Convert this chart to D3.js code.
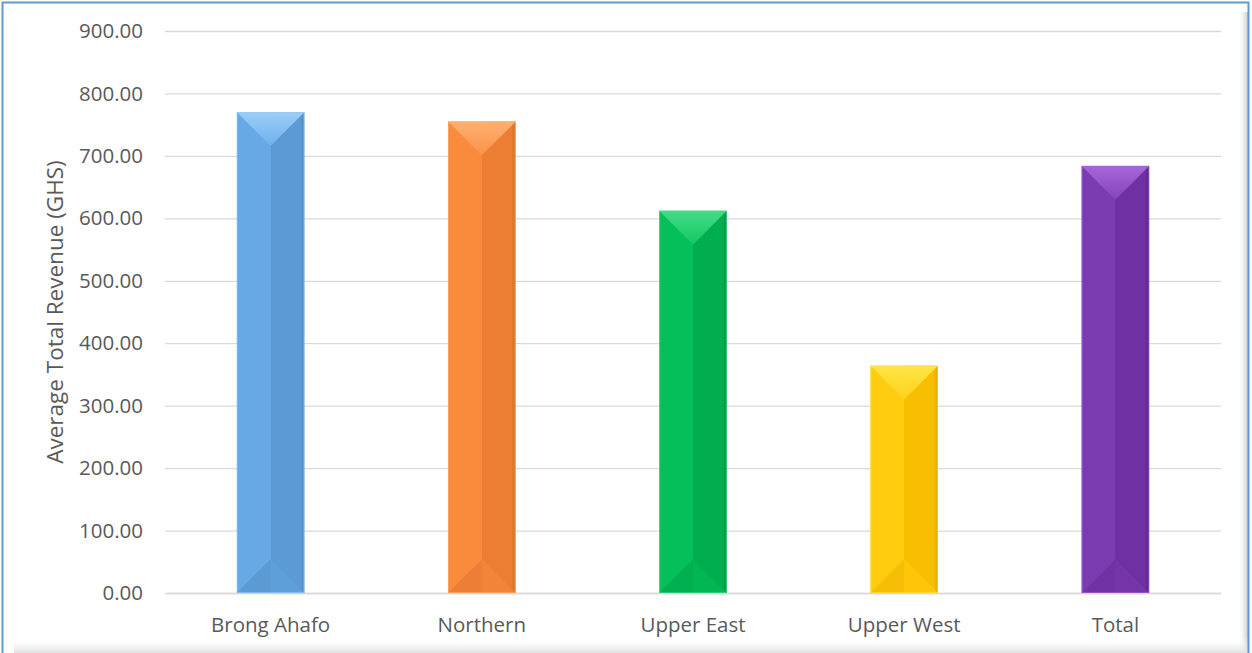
<!DOCTYPE html>
<html>
<head>
<meta charset="utf-8">
<script src="https://cdn.jsdelivr.net/npm/d3@7"></script>
<style>
  html, body { margin: 0; padding: 0; background: #fff; }
  svg { display: block; }
  text { font-family: "Open Sans", "Noto Sans", sans-serif; }
</style>
</head>
<body>
<svg id="chart" width="1252" height="653"></svg>
<script>
// ---- data ----
const categories = ["Brong Ahafo", "Northern", "Upper East", "Upper West", "Total"];
const values = [770, 755, 612, 364, 684];
const yTicks = [0, 100, 200, 300, 400, 500, 600, 700, 800, 900];
const yTitle = "Average Total Revenue (GHS)";
// colour sets per bar: [left side, right side, top light, top dark, bottom, edge]
const barColors = [
  ["#66A9E5", "#5C9AD5", "#9BCDF8", "#6FB1EC", "#5E9FDA", "#4F87BE"],
  ["#FA8B3D", "#EB7E32", "#FFB070", "#FA9248", "#F28437", "#CC6A24"],
  ["#05BF5B", "#00AE4F", "#45DB85", "#12C864", "#03B654", "#00913F"],
  ["#FFCC10", "#FABE00", "#FFE545", "#FFD21C", "#FFC508", "#D8A200"],
  ["#7C3CB1", "#6E30A2", "#A766D8", "#8444BC", "#7535A9", "#58237F"]
];

const W = 1252, H = 653;
const svg = d3.select("#chart");
const defs = svg.append("defs");

const plot = { left: 165, right: 1221, top: 31, bottom: 593 };

const x = d3.scaleBand().domain(categories).range([plot.left, plot.right]).paddingInner(0.68).paddingOuter(0.34);
const y = d3.scaleLinear().domain([0, 900]).range([plot.bottom, plot.top]);

// frame shadow gradients
const gR = defs.append("linearGradient").attr("id", "shR").attr("x1", 0).attr("x2", 1).attr("y1", 0).attr("y2", 0);
gR.append("stop").attr("offset", 0).attr("stop-color", "#fff").attr("stop-opacity", 0);
gR.append("stop").attr("offset", 1).attr("stop-color", "#c8c8c8").attr("stop-opacity", 1);
const gB = defs.append("linearGradient").attr("id", "shB").attr("x1", 0).attr("x2", 0).attr("y1", 0).attr("y2", 1);
gB.append("stop").attr("offset", 0).attr("stop-color", "#fff").attr("stop-opacity", 0);
gB.append("stop").attr("offset", 1).attr("stop-color", "#e0e0e0").attr("stop-opacity", 1);

svg.append("rect").attr("x", 0).attr("y", 0).attr("width", W).attr("height", H).attr("fill", "#fff");
svg.append("rect").attr("x", 1238).attr("y", 12).attr("width", 10).attr("height", H - 12).attr("fill", "url(#shR)");
svg.append("rect").attr("x", 14).attr("y", 638).attr("width", 1234).attr("height", 15).attr("fill", "url(#shB)");

// gridlines + y axis
const yAxis = d3.axisLeft(y).tickValues(yTicks).tickFormat(d3.format(".2f")).tickSize(-(plot.right - plot.left)).tickPadding(22);
const gy = svg.append("g").attr("transform", `translate(${plot.left},0)`).call(yAxis);
gy.select(".domain").remove();
gy.selectAll(".tick line").attr("stroke", "#d9d9d9").attr("stroke-width", 1.3);
gy.selectAll(".tick text").attr("fill", "#595959").attr("font-size", 20.5);

// x axis
const xAxis = d3.axisBottom(x).tickSize(0).tickPadding(24);
const gx = svg.append("g").attr("transform", `translate(0,${plot.bottom})`).call(xAxis);
gx.select(".domain").attr("stroke", "#d9d9d9").attr("stroke-width", 1.3);
gx.selectAll(".tick text").attr("fill", "#595959").attr("font-size", 20.5);

// y title
svg.append("text")
  .attr("transform", `translate(63,${(plot.top + plot.bottom) / 2}) rotate(-90)`)
  .attr("text-anchor", "middle")
  .attr("fill", "#595959").attr("font-size", 22.5)
  .text(yTitle);

// bars with bevel
categories.forEach((c, i) => {
  const col = barColors[i];
  const x0 = x(c), bw = x.bandwidth(), x1 = x0 + bw, xc = x0 + bw / 2;
  const yt = y(values[i]), yb = y(0);
  const d = Math.min(bw / 2, (yb - yt) / 2);
  const g = svg.append("g");

  const gl = defs.append("linearGradient").attr("id", "top" + i).attr("x1", 0).attr("x2", 0).attr("y1", 0).attr("y2", 1);
  gl.append("stop").attr("offset", 0).attr("stop-color", col[2]);
  gl.append("stop").attr("offset", 1).attr("stop-color", col[3]);

  const sg = defs.append("linearGradient").attr("id", "side" + i).attr("x1", 0).attr("x2", 1).attr("y1", 0).attr("y2", 0);
  sg.append("stop").attr("offset", 0).attr("stop-color", col[0]);
  sg.append("stop").attr("offset", 0.5).attr("stop-color", col[0]);
  sg.append("stop").attr("offset", 0.5).attr("stop-color", col[1]);
  sg.append("stop").attr("offset", 0.94).attr("stop-color", col[1]);
  sg.append("stop").attr("offset", 1).attr("stop-color", col[5]);

  g.append("rect").attr("x", x0).attr("y", yt).attr("width", bw).attr("height", yb - yt).attr("fill", "url(#side" + i + ")");
  g.append("polygon").attr("points", [[x0, yt], [x1, yt], [xc, yt + d]].map(p => p.join(",")).join(" "))
    .attr("fill", "url(#top" + i + ")");
  g.append("polygon").attr("points", [[x0, yb], [xc, yb - d], [x1, yb]].map(p => p.join(",")).join(" "))
    .attr("fill", col[4]);
  g.append("polygon").attr("points", [[x0, yb], [xc, yb - d], [xc, yb]].map(p => p.join(",")).join(" "))
    .attr("fill", "#000").attr("opacity", 0.03);
  g.append("rect").attr("x", x0 + 0.5).attr("y", yt + 0.5).attr("width", bw - 1).attr("height", yb - yt - 1)
    .attr("fill", "none").attr("stroke", col[2]).attr("stroke-opacity", 0.6).attr("stroke-width", 1);
});

// frame border
svg.append("path").attr("d", `M2.5,${H} L2.5,2.5 L1248.5,2.5 L1248.5,${H}`)
  .attr("fill", "none").attr("stroke", "#5B9BD5").attr("stroke-width", 2);
</script>
</body>
</html>
